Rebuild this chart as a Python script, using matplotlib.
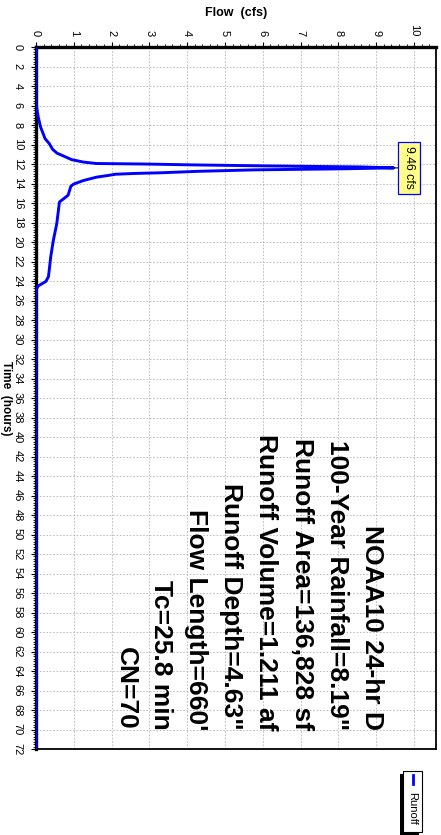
import numpy as np
import matplotlib
matplotlib.use("Agg")
import matplotlib.pyplot as plt
from matplotlib.ticker import MultipleLocator
from matplotlib.patches import Rectangle

plt.rcParams['font.family'] = ['Liberation Sans', 'DejaVu Sans']

# runoff hydrograph (time in hours, flow in cfs)
time_hr = [0, 5.8, 7.2, 8.2, 9.4, 9.9, 10.5, 10.9, 11.2, 11.55, 11.8, 11.95,
           12.0, 12.1, 12.2, 12.3, 12.4, 12.5, 12.6, 12.75, 12.9, 12.97, 13.05,
           13.15, 13.35, 13.7, 14.07, 14.3, 15.2, 15.9, 18.1, 19.8, 21.5, 23.55,
           24.05, 24.5, 24.9, 72]
flow_cfs = [0, 0, 0.06, 0.12, 0.24, 0.35, 0.44, 0.56, 0.74, 0.94, 1.25, 1.6,
            2.83, 4.3, 6.2, 8.6, 9.46, 8.0, 5.8, 4.3, 3.3, 2.6, 2.1,
            1.95, 1.6, 1.25, 0.99, 0.92, 0.85, 0.62, 0.55, 0.46, 0.39, 0.33,
            0.26, 0.06, 0, 0]
peak_flow = 9.46
peak_time = 12.4

summary = ["NOAA10 24-hr D", "100-Year Rainfall=8.19\"", "Runoff Area=136,828 sf",
           "Runoff Volume=1.211 af", "Runoff Depth=4.63\"", "Flow Length=660'",
           "Tc=25.8 min", "CN=70"]

W, H = 441, 835
fig = plt.figure(figsize=(W / 100, H / 100), dpi=100)

def fx(x):
    return x / W

def fy(y):
    return 1 - y / H

ax = fig.add_axes([fx(36), fy(749), (436 - 36) / W, (749 - 47) / H])

ax.plot(flow_cfs, time_hr, color='#0000ff', lw=2.1, zorder=3)

ax.set_xlim(0, 10.58)
ax.set_ylim(72, 0)
ax.xaxis.set_major_locator(MultipleLocator(1))
ax.xaxis.set_minor_locator(MultipleLocator(0.2))
ax.yaxis.set_major_locator(MultipleLocator(2))
ax.yaxis.set_minor_locator(MultipleLocator(0.25))
ax.xaxis.tick_top()
ax.tick_params(which='both', direction='out', colors='black', labelsize=8)
ax.tick_params(which='major', length=3.5, width=0.8)
ax.tick_params(which='minor', length=2.2, width=0.6)
ax.tick_params(axis='x', labelrotation=-90, pad=4)
ax.tick_params(axis='y', labelrotation=-90, pad=6)
for lab in ax.get_yticklabels():
    lab.set_va('center')
    lab.set_ha('right')
ax.grid(True, which='major', color='#b4b4b4', ls=(0, (2, 2)), lw=0.6)
ax.set_axisbelow(True)

for side in ['left', 'top']:
    ax.spines[side].set_linewidth(2.4)
for side in ['right', 'bottom']:
    ax.spines[side].set_linewidth(1.3)

fig.text(fx(236), fy(13), "Flow  (cfs)", ha='center', va='center',
         fontsize=9, fontweight='bold')
fig.text(fx(6), fy(398), "Time  (hours)", ha='center', va='center',
         fontsize=8.5, fontweight='bold', rotation=-90)

# storm summary block
line_x = [372, 337, 302, 266, 231, 196, 161, 126]
for txt, px in zip(summary, line_x):
    ax.text((px - 36) / 400, (749 - 730) / 702, txt, transform=ax.transAxes,
            rotation=-90, ha='center', va='bottom', fontsize=19,
            fontweight='bold', zorder=4)

# peak flow tag
ax.annotate(f"{peak_flow:.2f} cfs", xy=(peak_flow, peak_time),
            xytext=(9.87, peak_time), rotation=-90, ha='center', va='center',
            fontsize=8.8,
            bbox=dict(boxstyle='square,pad=0.4', fc='#ffff88', ec='#0000ff', lw=0.9),
            arrowprops=dict(arrowstyle='-', color='black', lw=0.8,
                            shrinkA=0, shrinkB=0),
            zorder=5)

# legend box with drop shadow
fig.patches.append(Rectangle((fx(400), fy(835)), 19 / W, 61 / H,
                             transform=fig.transFigure, fc='black', ec='none'))
fig.patches.append(Rectangle((fx(403), fy(832)), 19 / W, 61 / H,
                             transform=fig.transFigure, fc='white', ec='black', lw=0.8))
fig.lines.append(plt.Line2D([fx(412.5), fx(412.5)], [fy(775), fy(784)],
                            transform=fig.transFigure, color='#0000ff', lw=2))
fig.text(fx(412.5), fy(808), "Runoff", rotation=-90, ha='center', va='center',
         fontsize=8)

fig.savefig("out.png", dpi=100)
